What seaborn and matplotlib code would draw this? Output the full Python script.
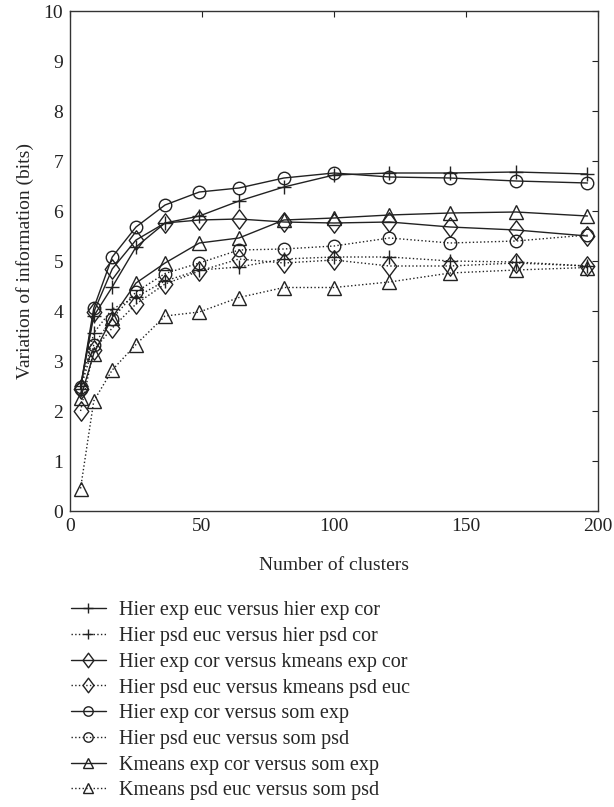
import matplotlib
matplotlib.use("Agg")
import matplotlib.pyplot as plt
import seaborn as sns
import pandas as pd
from matplotlib.path import Path

sns.set_theme(style="white")
plt.rcParams['font.family'] = ['Liberation Serif', 'DejaVu Serif']

clusters = [4, 9, 16, 25, 36, 49, 64, 81, 100, 121, 144, 169, 196]

hier_exp_euc_cor = [2.5, 3.9, 4.48, 5.28, 5.76, 5.9, 6.2, 6.48, 6.72, 6.76, 6.76, 6.78, 6.74]
hier_psd_euc_cor = [2.45, 3.56, 4.04, 4.28, 4.6, 4.82, 4.88, 5.04, 5.08, 5.08, 5.0, 4.98, 4.9]
hier_exp_kmeans_exp = [2.45, 3.98, 4.84, 5.42, 5.76, 5.82, 5.84, 5.78, 5.76, 5.78, 5.68, 5.62, 5.5]
hier_psd_kmeans_psd = [2.0, 3.22, 3.66, 4.14, 4.54, 4.8, 5.04, 4.96, 5.02, 4.9, 4.9, 4.96, 4.9]
hier_exp_som_exp = [2.48, 4.06, 5.08, 5.68, 6.12, 6.38, 6.46, 6.66, 6.76, 6.68, 6.66, 6.6, 6.56]
hier_psd_som_psd = [2.45, 3.32, 3.85, 4.38, 4.75, 4.96, 5.22, 5.24, 5.3, 5.46, 5.36, 5.4, 5.52]
kmeans_exp_som_exp = [2.26, 3.15, 3.87, 4.56, 4.96, 5.36, 5.46, 5.82, 5.86, 5.92, 5.96, 5.98, 5.9]
kmeans_psd_som_psd = [0.45, 2.2, 2.82, 3.33, 3.9, 3.98, 4.27, 4.47, 4.47, 4.58, 4.76, 4.82, 4.87]

labels = [
    "Hier exp euc versus hier exp cor",
    "Hier psd euc versus hier psd cor",
    "Hier exp cor versus kmeans exp cor",
    "Hier psd euc versus kmeans psd euc",
    "Hier exp cor versus som exp",
    "Hier psd euc versus som psd",
    "Kmeans exp cor versus som exp",
    "Kmeans psd euc versus som psd",
]
series = [hier_exp_euc_cor, hier_psd_euc_cor, hier_exp_kmeans_exp, hier_psd_kmeans_psd,
          hier_exp_som_exp, hier_psd_som_psd, kmeans_exp_som_exp, kmeans_psd_som_psd]

diamond = Path([(0, 1), (0.75, 0), (0, -1), (-0.75, 0), (0, 1)],
               [Path.MOVETO, Path.LINETO, Path.LINETO, Path.LINETO, Path.CLOSEPOLY])
markers = ['+', '+', diamond, diamond, 'o', 'o', '^', '^']
sizes = [10, 10, 14, 14, 9, 9, 10, 10]
styles = ['-', ':', '-', ':', '-', ':', '-', ':']

fig = plt.figure(figsize=(6.14, 8.07), dpi=100)
ax = fig.add_axes([70/614, 1-511/807, 528/614, 500/807])

col = '#222222'
for lab, vals, mk, ms, ls in zip(labels, series, markers, sizes, styles):
    df = pd.DataFrame({'x': clusters, 'y': vals})
    sns.lineplot(data=df, x='x', y='y', ax=ax, color=col, linestyle=ls,
                 linewidth=1.0, marker=mk, markersize=ms,
                 markerfacecolor='none', markeredgecolor=col, markeredgewidth=1.0,
                 label=lab, legend=False)

ax.set_xlim(0, 200)
ax.set_ylim(0, 10)
ax.set_xticks([0, 50, 100, 150, 200])
ax.set_yticks(range(0, 11))
ax.set_xlabel("Number of clusters", fontsize=14, labelpad=16)
ax.set_ylabel("Variation of information (bits)", fontsize=14, labelpad=7)
ax.tick_params(direction='in', length=4, width=0.8, top=True, right=True,
               labelsize=14, colors='#222222', pad=5)
for s in ax.spines.values():
    s.set_color('#333333')
    s.set_linewidth(1.0)

handles, labs = ax.get_legend_handles_labels()
fig.legend(handles, labs, loc='upper left', bbox_to_anchor=(0.102, 0.265),
           frameon=False, fontsize=14.5, handlelength=1.75, handletextpad=0.65,
           labelspacing=0.33, markerscale=0.75, borderaxespad=0)

fig.savefig("out.png", dpi=100)
